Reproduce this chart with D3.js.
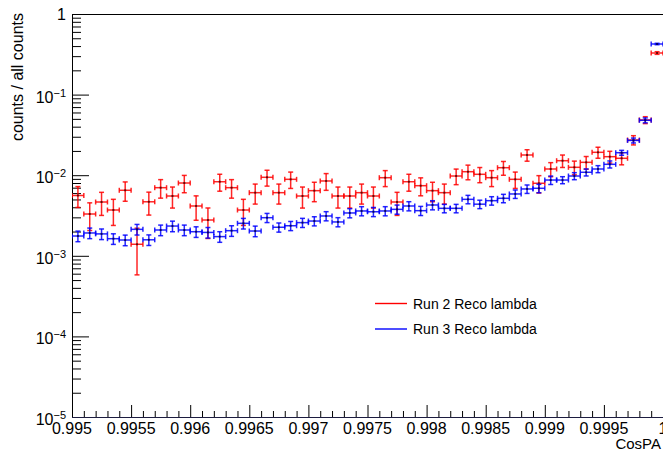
<!DOCTYPE html>
<html>
<head>
<meta charset="utf-8">
<script src="https://cdn.jsdelivr.net/npm/d3@7"></script>
<style>
  html, body { margin: 0; padding: 0; background: #fff; }
  svg { display: block; font-family: "Liberation Sans", Arial, Helvetica, sans-serif; }
</style>
</head>
<body>
<svg id="chart" width="663" height="453"></svg>
<script>
// CosPA bin centres (bin width 0.0001)
const cosPA = [
  0.99505, 0.99515, 0.99525, 0.99535, 0.99545, 0.99555, 0.99565, 0.99575, 0.99585, 0.99595,
  0.99605, 0.99615, 0.99625, 0.99635, 0.99645, 0.99655, 0.99665, 0.99675, 0.99685, 0.99695,
  0.99705, 0.99715, 0.99725, 0.99735, 0.99745, 0.99755, 0.99765, 0.99775, 0.99785, 0.99795,
  0.99805, 0.99815, 0.99825, 0.99835, 0.99845, 0.99855, 0.99865, 0.99875, 0.99885, 0.99895,
  0.99905, 0.99915, 0.99925, 0.99935, 0.99945, 0.99955, 0.99965, 0.99975, 0.99985, 0.99995
];
const binWidth = 0.0001;

// Run 2 reconstructed lambda, normalised counts and their errors
const run2Values = [
  0.00560, 0.00330, 0.00465, 0.00370, 0.00650, 0.00139, 0.00468, 0.00700, 0.00552, 0.00800,
  0.00415, 0.00278, 0.00830, 0.00700, 0.00370, 0.00607, 0.00942, 0.00607, 0.00889, 0.00552,
  0.00643, 0.00848, 0.00552, 0.00552, 0.00607, 0.00552, 0.00931, 0.00465, 0.00830, 0.00741,
  0.00643, 0.00607, 0.00977, 0.01105, 0.01026, 0.00931, 0.01239, 0.00889, 0.01781, 0.00794,
  0.01194, 0.01513, 0.01253, 0.01445, 0.01923, 0.01697, 0.01621, 0.02733, 0.04842, 0.3282
];
const run2Errors = [
  0.00162, 0.00124, 0.00148, 0.00132, 0.00175, 0.00081, 0.00148, 0.00181, 0.00161, 0.00194,
  0.00139, 0.00114, 0.00197, 0.00181, 0.00132, 0.00169, 0.00210, 0.00169, 0.00204, 0.00161,
  0.00174, 0.00199, 0.00161, 0.00161, 0.00169, 0.00161, 0.00209, 0.00148, 0.00197, 0.00186,
  0.00174, 0.00169, 0.00214, 0.00228, 0.00219, 0.00209, 0.00241, 0.00204, 0.00289, 0.00193,
  0.00237, 0.00266, 0.00242, 0.00260, 0.00300, 0.00282, 0.00276, 0.00358, 0.00476, 0.0124
];

// Run 3 reconstructed lambda, normalised counts and their errors
const run3Values = [
  0.00176, 0.00192, 0.00187, 0.00163, 0.00157, 0.00213, 0.00158, 0.00209, 0.00234, 0.00209,
  0.00199, 0.00195, 0.00173, 0.00205, 0.00253, 0.00203, 0.00297, 0.00226, 0.00236, 0.00258,
  0.00270, 0.00312, 0.00263, 0.00340, 0.00360, 0.00352, 0.00360, 0.00377, 0.00415, 0.00363,
  0.00427, 0.00388, 0.00388, 0.00502, 0.00437, 0.00483, 0.00517, 0.00585, 0.00675, 0.00688,
  0.00871, 0.00871, 0.00977, 0.01087, 0.01194, 0.01365, 0.01901, 0.0270, 0.0480, 0.4245
];
const run3Errors = [
  0.000264, 0.000288, 0.000281, 0.000245, 0.000236, 0.000320, 0.000237, 0.000314, 0.000351, 0.000314,
  0.000299, 0.000293, 0.000260, 0.000308, 0.000380, 0.000305, 0.000386, 0.000294, 0.000307, 0.000335,
  0.000351, 0.000406, 0.000342, 0.000442, 0.000468, 0.000458, 0.000468, 0.000490, 0.000540, 0.000472,
  0.000555, 0.000466, 0.000466, 0.000602, 0.000524, 0.000580, 0.000620, 0.000702, 0.000810, 0.000826,
  0.001045, 0.000871, 0.000977, 0.001087, 0.001194, 0.001365, 0.00133, 0.00189, 0.00336, 0.0085
];

// Axis ticks
const xMajorTicks = [0.995, 0.9955, 0.996, 0.9965, 0.997, 0.9975, 0.998, 0.9985, 0.999, 0.9995, 1];
const xTickLabels = ["0.995", "0.9955", "0.996", "0.9965", "0.997", "0.9975", "0.998", "0.9985", "0.999", "0.9995", "1"];
const yMajorTicks = [1e-5, 1e-4, 1e-3, 1e-2, 1e-1, 1];
const yTickExponents = ["-5", "-4", "-3", "-2", "-1", "0"];

const seriesNames = ["Run 2 Reco lambda", "Run 3 Reco lambda"];
const seriesColors = ["#ff0000", "#0000ff"];

// Frame geometry
const frameLeft = 72, frameRight = 663, frameTop = 14, frameBottom = 417;

const svg = d3.select("#chart");

const x = d3.scaleLinear().domain([0.995, 1.0]).range([frameLeft, frameRight]);
const y = d3.scaleLog().domain([1e-5, 1]).range([frameBottom, frameTop]);

// Minor ticks: every 0.0001 along x, 2..9 per decade along y
const xMinorTicks = d3.range(0, 51).map(i => 0.995 + i * 0.0001)
  .filter(v => xMajorTicks.every(t => Math.abs(t - v) > 1e-9));
const yMinorTicks = [];
for (let e = -5; e < 0; e++) for (let m = 2; m <= 9; m++) yMinorTicks.push(m * Math.pow(10, e));

// X axis (ticks point up into the frame)
const xAxisMajor = d3.axisTop(x).tickValues(xMajorTicks).tickSize(12).tickFormat("");
const xAxisMinor = d3.axisTop(x).tickValues(xMinorTicks).tickSize(6).tickFormat("");
svg.append("g").attr("transform", `translate(0,${frameBottom})`).call(xAxisMinor)
  .call(g => g.select(".domain").remove());
svg.append("g").attr("transform", `translate(0,${frameBottom})`).call(xAxisMajor)
  .call(g => g.select(".domain").remove());

// Y axis (ticks point right into the frame)
const yAxisMajor = d3.axisRight(y).tickValues(yMajorTicks).tickSize(17).tickFormat("");
const yAxisMinor = d3.axisRight(y).tickValues(yMinorTicks).tickSize(9).tickFormat("");
svg.append("g").attr("transform", `translate(${frameLeft},0)`).call(yAxisMinor)
  .call(g => g.select(".domain").remove());
svg.append("g").attr("transform", `translate(${frameLeft},0)`).call(yAxisMajor)
  .call(g => g.select(".domain").remove());

svg.selectAll(".tick line").attr("stroke", "#000").attr("stroke-width", 1);

// Frame lines
svg.append("line").attr("x1", frameLeft).attr("x2", frameRight).attr("y1", frameTop + 0.5).attr("y2", frameTop + 0.5)
  .attr("stroke", "#000").attr("stroke-width", 1);
svg.append("line").attr("x1", frameLeft + 0.5).attr("x2", frameLeft + 0.5).attr("y1", frameTop).attr("y2", frameBottom)
  .attr("stroke", "#000").attr("stroke-width", 1);
svg.append("line").attr("x1", frameLeft).attr("x2", frameRight).attr("y1", frameBottom + 0.5).attr("y2", frameBottom + 0.5)
  .attr("stroke", "#1c1c40").attr("stroke-width", 1.2);

// X tick labels
svg.append("g").selectAll("text").data(xMajorTicks).join("text")
  .attr("x", d => x(d)).attr("y", frameBottom + 17)
  .attr("text-anchor", "middle").attr("font-size", 16).attr("fill", "#000")
  .text((d, i) => xTickLabels[i]);

// Y tick labels as powers of ten
const yLab = svg.append("g").selectAll("text").data(yMajorTicks).join("text")
  .attr("x", 66).attr("y", d => y(d) + 8)
  .attr("text-anchor", "end").attr("font-size", 16).attr("fill", "#000");
yLab.each(function (d, i) {
  const t = d3.select(this);
  if (yTickExponents[i] === "0") {
    t.attr("y", y(d) + 6).text("1");
  } else {
    t.append("tspan").text("10");
    t.append("tspan").attr("font-size", 11).attr("dy", -6)
      .text(yTickExponents[i].replace("-", "\u2212"));
  }
});

// Axis titles
svg.append("text").attr("x", 661).attr("y", 449).attr("text-anchor", "end")
  .attr("font-size", 15).attr("fill", "#000").text("CosPA");
svg.append("text").attr("transform", "translate(23,13) rotate(-90)")
  .attr("text-anchor", "end").attr("font-size", 16).attr("fill", "#000")
  .text("counts / all counts");

// Error-bar series, clipped to the frame
svg.append("clipPath").attr("id", "frame-clip")
  .append("rect").attr("x", frameLeft).attr("y", frameTop)
  .attr("width", frameRight - frameLeft).attr("height", frameBottom - frameTop);

function drawSeries(values, errors, color) {
  const pts = cosPA.map((c, i) => ({ c, v: values[i], e: errors[i] }));
  const g = svg.append("g").attr("clip-path", "url(#frame-clip)")
    .attr("stroke", color).attr("stroke-width", 1.5).attr("fill", "none").attr("stroke-opacity", 0.85);
  const cap = 2.5;
  pts.forEach(p => {
    const xl = x(p.c - binWidth / 2), xr = x(p.c + binWidth / 2), xc = x(p.c);
    const yc = y(p.v), yt = y(p.v + p.e), yb = y(Math.max(p.v - p.e, 1e-6));
    g.append("line").attr("x1", xl).attr("x2", xr).attr("y1", yc).attr("y2", yc);
    g.append("line").attr("x1", xl).attr("x2", xl).attr("y1", yc - cap).attr("y2", yc + cap);
    g.append("line").attr("x1", xr).attr("x2", xr).attr("y1", yc - cap).attr("y2", yc + cap);
    g.append("line").attr("x1", xc).attr("x2", xc).attr("y1", yt).attr("y2", yb);
    g.append("line").attr("x1", xc - cap).attr("x2", xc + cap).attr("y1", yt).attr("y2", yt);
    g.append("line").attr("x1", xc - cap).attr("x2", xc + cap).attr("y1", yb).attr("y2", yb);
    g.append("rect").attr("x", xc - 1).attr("y", yc - 1).attr("width", 2).attr("height", 2)
      .attr("stroke", "none").attr("fill", "#000").attr("fill-opacity", 0.6);
  });
}
drawSeries(run2Values, run2Errors, seriesColors[0]);
drawSeries(run3Values, run3Errors, seriesColors[1]);

// Legend
const legend = svg.append("g");
seriesNames.forEach((name, i) => {
  const ly = 303.5 + i * 25.5;
  legend.append("line").attr("x1", 375).attr("x2", 407).attr("y1", ly).attr("y2", ly)
    .attr("stroke", seriesColors[i]).attr("stroke-width", 1.4);
  legend.append("text").attr("x", 413).attr("y", ly + 5).attr("font-size", 14)
    .attr("fill", "#000").text(name);
});
</script>
</body>
</html>
